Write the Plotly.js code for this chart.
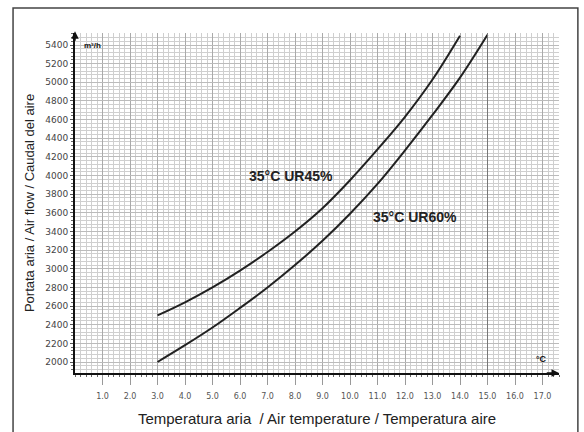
<!DOCTYPE html>
<html>
<head>
<meta charset="utf-8">
<script src="https://cdn.plot.ly/plotly-3.0.1.min.js"></script>
<style>html,body{margin:0;padding:0;background:#fff;}#chart{width:584px;height:432px;}</style>
</head>
<body>
<div id="chart"></div>
<script>
// Temperature (°C)
var temps45 = [3, 4, 5, 6, 7, 8, 9, 10, 11, 12, 13, 14];
var flow45  = [2500, 2640, 2800, 2980, 3180, 3400, 3650, 3950, 4280, 4630, 5030, 5500];
var temps60 = [3, 4, 5, 6, 7, 8, 9, 10, 11, 12, 13, 14, 15];
var flow60  = [2000, 2180, 2370, 2580, 2800, 3040, 3300, 3590, 3910, 4270, 4650, 5050, 5510];
var seriesNames = ["35°C UR45%", "35°C UR60%"];
var xTickVals = [1, 2, 3, 4, 5, 6, 7, 8, 9, 10, 11, 12, 13, 14, 15, 16, 17];
var xTickText = ["1.0","2.0","3.0","4.0","5.0","6.0","7.0","8.0","9.0","10.0","11.0","12.0","13.0","14.0","15.0","16.0","17.0"];
var yTickVals = [2000,2200,2400,2600,2800,3000,3200,3400,3600,3800,4000,4200,4400,4600,4800,5000,5200,5400];
var xRange = [0, 17.6];
var yRange = [1882, 5529];

var lineStyle = {color: '#222', width: 2, shape: 'spline', smoothing: 1};
var traces = [
  {x: temps45, y: flow45, mode: 'lines', name: seriesNames[0], line: lineStyle, hoverinfo: 'skip'},
  {x: temps60, y: flow60, mode: 'lines', name: seriesNames[1], line: lineStyle, hoverinfo: 'skip'}
];

var layout = {
  width: 584, height: 432,
  margin: {l: 75, r: 25, t: 33, b: 59},
  paper_bgcolor: '#fff', plot_bgcolor: '#fff',
  showlegend: false,
  font: {family: 'DejaVu Sans, sans-serif', color: '#333'},
  xaxis: {
    range: xRange, tickmode: 'array', tickvals: xTickVals, ticktext: xTickText,
    ticks: 'outside', ticklen: 10, tickcolor: '#999', tickwidth: 1,
    ticklabelstandoff: 4,
    tickfont: {size: 8, color: '#555', family: 'DejaVu Sans, sans-serif'},
    showgrid: true, gridcolor: '#aaa', gridwidth: 1,
    minor: {dtick: 0.2, tick0: 0, showgrid: true, gridcolor: '#cfcfcf', gridwidth: 1, ticks: 'outside', ticklen: 2, tickcolor: '#666'},
    showline: true, linecolor: '#111', linewidth: 2, zeroline: false,
    title: {text: 'Temperatura aria  / Air temperature / Temperatura aire', font: {size: 15, color: '#222', family: 'Liberation Sans, Arial, sans-serif'}, standoff: 14}
  },
  yaxis: {
    range: yRange, tickmode: 'array', tickvals: yTickVals,
    ticks: 'outside', ticklen: 3, tickcolor: '#555',
    tickfont: {size: 9, color: '#444', family: 'DejaVu Sans, sans-serif'},
    showgrid: true, gridcolor: '#bbb', gridwidth: 1,
    minor: {dtick: 40, tick0: 2000, showgrid: true, gridcolor: '#cfcfcf', gridwidth: 1, ticks: 'outside', ticklen: 2, tickcolor: '#666'},
    showline: true, linecolor: '#111', linewidth: 2, zeroline: false,
    title: {text: 'Portata aria / Air flow / Caudal del aire', font: {size: 13, color: '#222', family: 'Liberation Sans, Arial, sans-serif'}, standoff: 8}
  },
  shapes: [
    {type: 'line', xref: 'x', yref: 'y', x0: 15, x1: 15, y0: yRange[0], y1: yRange[1], line: {color: '#777', width: 1}},
    {type: 'rect', xref: 'paper', yref: 'paper', x0: -0.128, x1: 1.039, y0: -0.2, y1: 1.0735, line: {color: '#444', width: 1.5}, fillcolor: 'rgba(0,0,0,0)', layer: 'below'}
  ],
  annotations: [
    {x: 7.85, y: 4000, xref: 'x', yref: 'y', text: '<b>' + seriesNames[0] + '</b>', showarrow: false, font: {size: 14, color: '#222', family: 'Liberation Sans, Arial, sans-serif'}},
    {x: 12.35, y: 3560, xref: 'x', yref: 'y', text: '<b>' + seriesNames[1] + '</b>', showarrow: false, font: {size: 14, color: '#222', family: 'Liberation Sans, Arial, sans-serif'}},
    {x: 0.65, y: 5395, xref: 'x', yref: 'y', text: '<b>m³/h</b>', showarrow: false, font: {size: 8, color: '#111', family: 'Liberation Sans, Arial, sans-serif'}},
    {x: 16.95, y: 2030, xref: 'x', yref: 'y', text: '<b>°C</b>', showarrow: false, font: {size: 9, color: '#111', family: 'Liberation Sans, Arial, sans-serif'}},
    {x: xRange[1], y: yRange[0], ax: xRange[1] - 0.5, ay: yRange[0], xref: 'x', yref: 'y', axref: 'x', ayref: 'y', text: '', showarrow: true, arrowhead: 2, arrowsize: 1, arrowwidth: 1.5, arrowcolor: '#111'},
    {x: 0, y: yRange[1] + 20, ax: 0, ay: yRange[1] - 100, xref: 'x', yref: 'y', axref: 'x', ayref: 'y', text: '', showarrow: true, arrowhead: 2, arrowsize: 1, arrowwidth: 1.5, arrowcolor: '#111'}
  ]
};

Plotly.newPlot('chart', traces, layout, {displayModeBar: false, staticPlot: true});
</script>
</body>
</html>
